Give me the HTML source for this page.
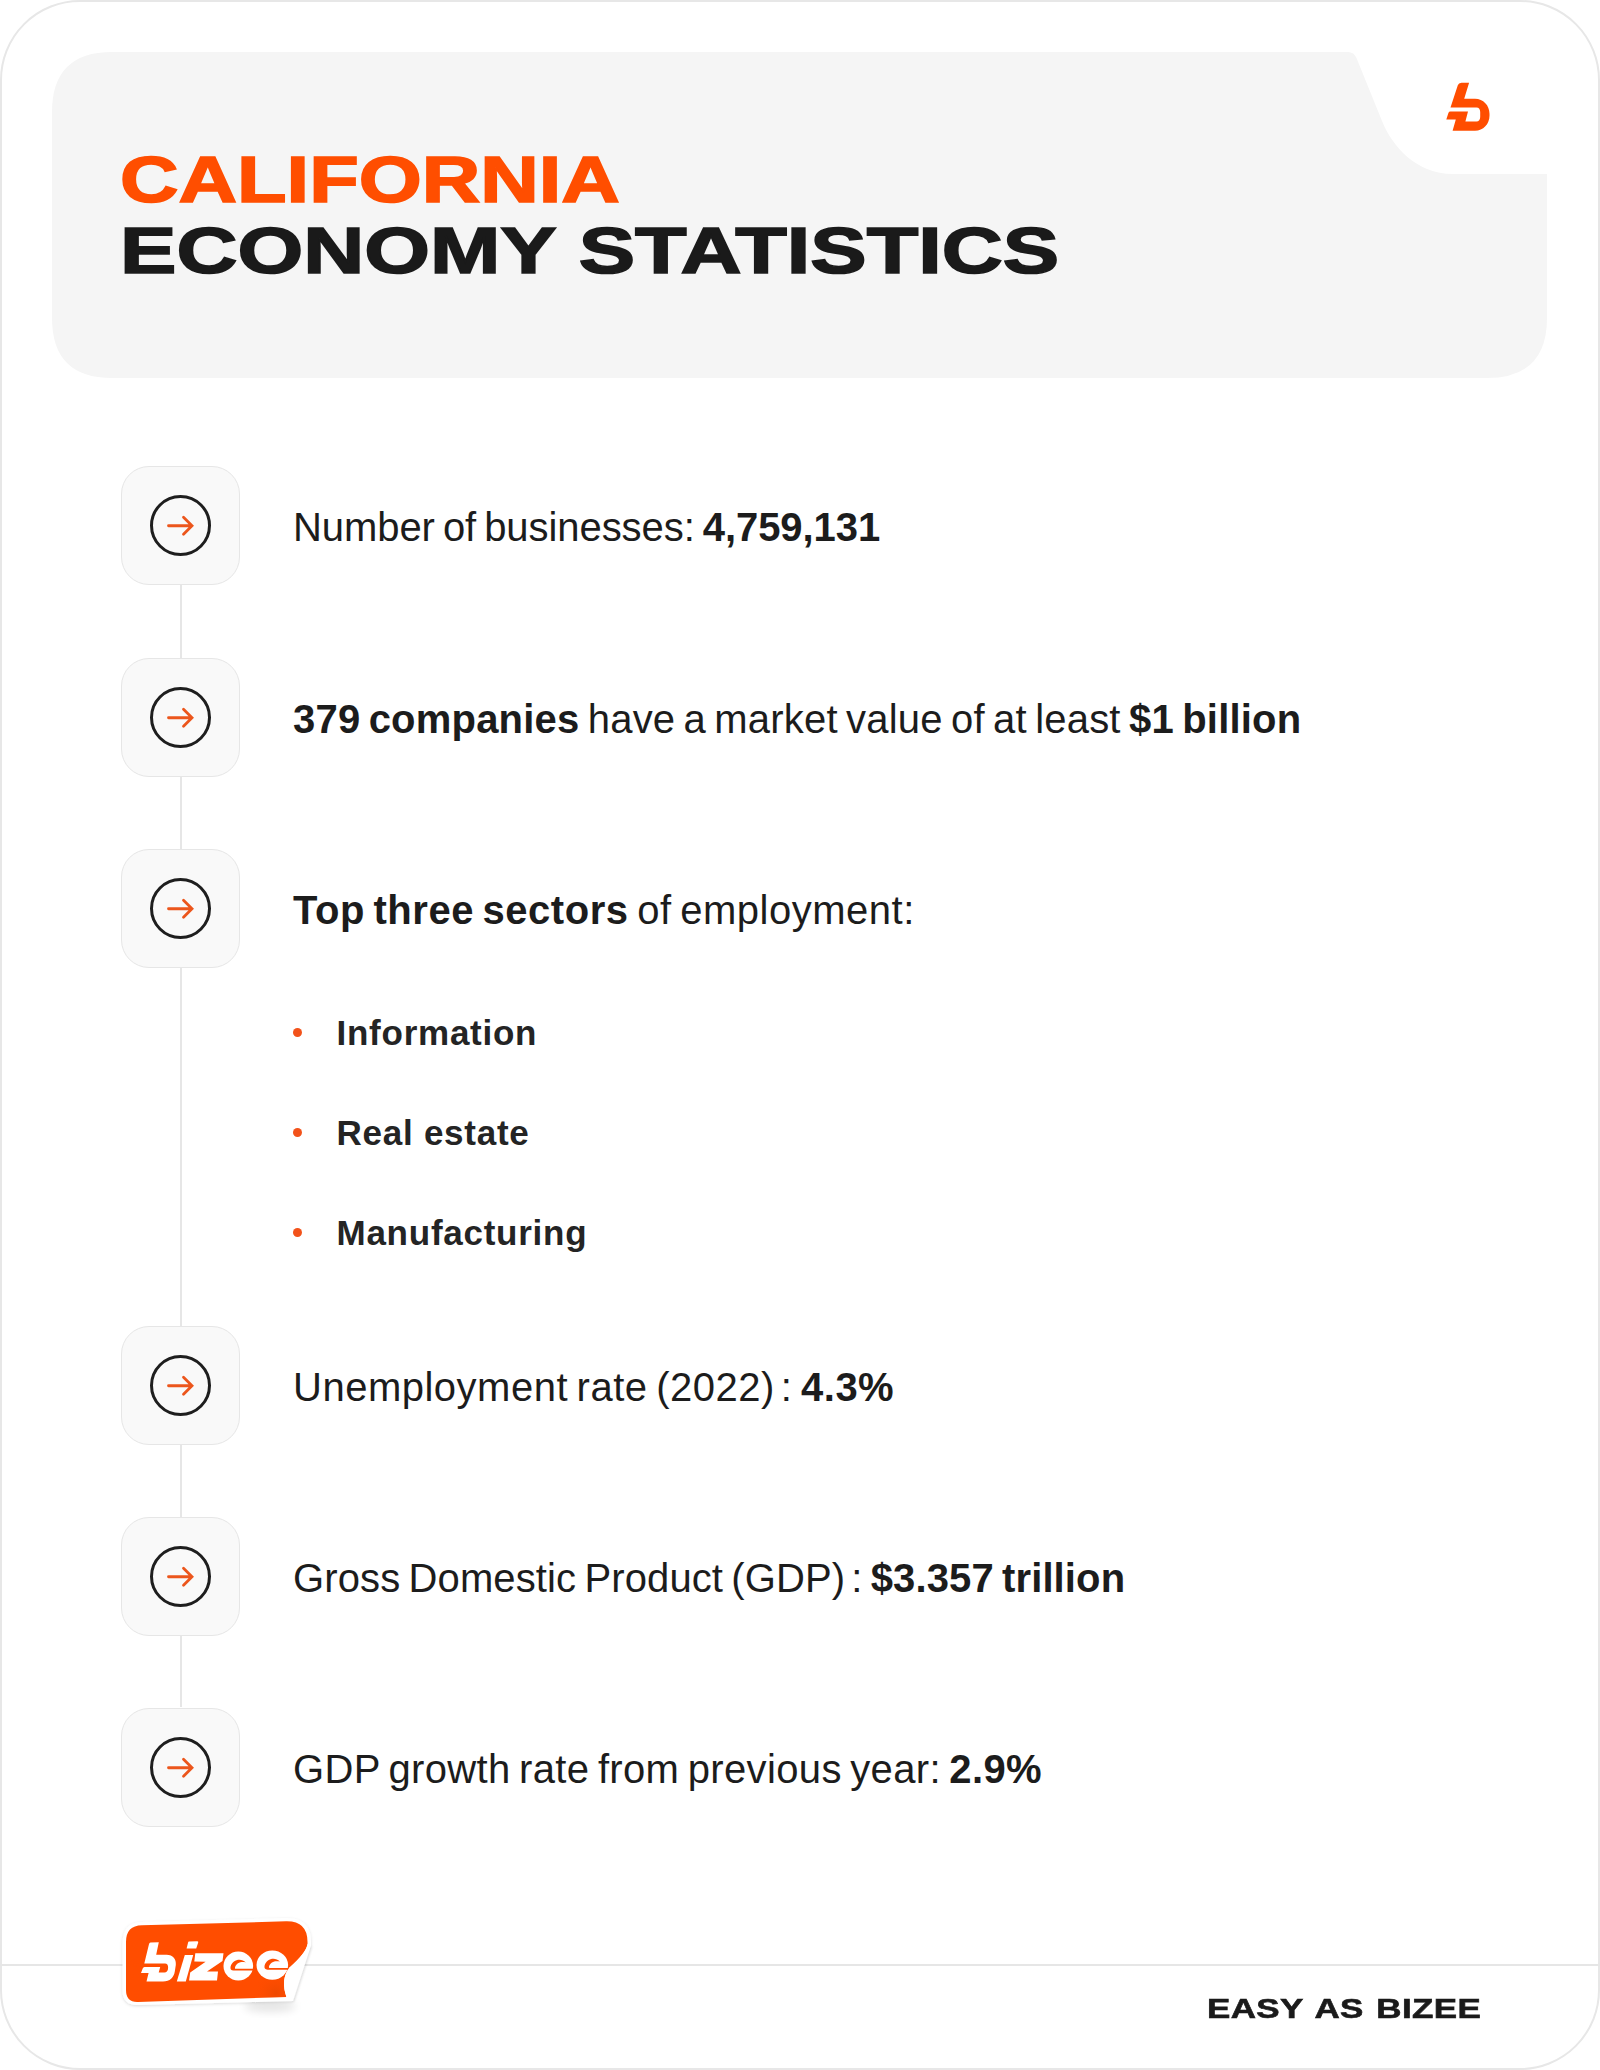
<!DOCTYPE html>
<html><head><meta charset="utf-8">
<style>
html,body{margin:0;padding:0;background:#fff;}
body{width:1600px;height:2070px;position:relative;overflow:hidden;font-family:"Liberation Sans",sans-serif;color:#1c1c1c;}
.frame{position:absolute;left:0;top:0;width:1596px;height:2066px;border:2px solid #e7e7e7;border-radius:80px;box-sizing:content-box;}
.abs{position:absolute;left:0;top:0;}
.t{position:absolute;white-space:nowrap;font-weight:bold;transform-origin:0 0;}
.ibox{position:absolute;left:121px;width:119px;height:119px;box-sizing:border-box;border:1.5px solid #e6e6e6;background:#f9f9f9;border-radius:28px;}
.vline{position:absolute;left:179.75px;width:2px;background:#e6e6e6;}
.row{position:absolute;left:293px;white-space:nowrap;font-size:40px;color:#1c1c1c;word-spacing:-3px;}
.row b{font-weight:bold;}
.sp{display:inline-block;width:6px;}
.bul{position:absolute;left:336.5px;white-space:nowrap;font-size:35px;letter-spacing:0.75px;font-weight:bold;color:#242424;}
.dot{position:absolute;left:293.4px;width:9px;height:9px;border-radius:50%;background:#f2521a;}
.hline{position:absolute;left:0;top:1964px;width:1600px;height:2px;background:#e6e6e6;}
.easy{position:absolute;left:1206.5px;top:1993px;white-space:nowrap;font-weight:bold;font-size:27.5px;-webkit-text-stroke:0.6px #1a1a1a;transform:scaleX(1.271);transform-origin:0 0;color:#1a1a1a;letter-spacing:0.3px;word-spacing:2px;}
</style></head>
<body>
<div class="frame"></div>
<svg class="abs" width="1600" height="400" viewBox="0 0 1600 400"><path d="M52 112 Q52 52 112 52 L1348 52 Q1354 52 1356.5 58 L1382 121 C1392 146 1416 174 1453 174 L1547 174 L1547 318 Q1547 378 1487 378 L112 378 Q52 378 52 318 Z" fill="#f5f5f5"/><path d="M1461.5 82.7 L1469.1 82.7 L1464.2 98.7 L1475 98.7 C1483.3 98.7 1489.5 105.4 1489.5 113.7 L1489.5 115.7 C1489.5 124 1483.3 130.7 1475 130.7 L1452.6 130.7 L1455.8 119.5 L1446.3 119.5 L1448.4 113 Q1448.9 111.6 1450.4 111.6 L1468 111.6 L1465.4 121.5 L1476.5 121.5 C1478.8 121.5 1480.2 119.5 1480.2 117 L1480.2 112 C1480.2 109.5 1479 107.5 1476.5 107.5 L1450.5 107.5 L1457.8 85.3 Q1458.6 82.7 1461.5 82.7 Z" fill="#ff4d00"/></svg>
<div class="t" style="left:120.4px;top:143.3px;font-size:64.5px;color:#ff4e00;-webkit-text-stroke:1.6px #ff4e00;transform:scaleX(1.2569);">CALIFORNIA</div>
<div class="t" style="left:120.3px;top:213.5px;font-size:64.5px;color:#1a1a1a;-webkit-text-stroke:1.6px #1a1a1a;transform:scaleX(1.3105);">ECONOMY STATISTICS</div>
<div class="vline" style="top:585px;height:1122px;"></div>
<div class="ibox" style="top:466px;"></div>
<svg class="abs" style="left:120px;top:465px;" width="120" height="120" viewBox="0 0 120 120"><circle cx="60.5" cy="60.5" r="29" fill="none" stroke="#1e1e1e" stroke-width="3"/><path d="M48.5 60.75 H71 M63.5 52.25 L72 60.75 L63.5 69.25" fill="none" stroke="#ec561c" stroke-width="2.8" stroke-linecap="round" stroke-linejoin="miter"/></svg>
<div class="row" style="top:504.75px;letter-spacing:-0.067px;">Number of businesses: <b>4,759,131</b></div>
<div class="ibox" style="top:658px;"></div>
<svg class="abs" style="left:120px;top:657px;" width="120" height="120" viewBox="0 0 120 120"><circle cx="60.5" cy="60.5" r="29" fill="none" stroke="#1e1e1e" stroke-width="3"/><path d="M48.5 60.75 H71 M63.5 52.25 L72 60.75 L63.5 69.25" fill="none" stroke="#ec561c" stroke-width="2.8" stroke-linecap="round" stroke-linejoin="miter"/></svg>
<div class="row" style="top:696.75px;letter-spacing:0.2px;"><b>379 companies</b> have a market value of at least <b>$1 billion</b></div>
<div class="ibox" style="top:849px;"></div>
<svg class="abs" style="left:120px;top:848px;" width="120" height="120" viewBox="0 0 120 120"><circle cx="60.5" cy="60.5" r="29" fill="none" stroke="#1e1e1e" stroke-width="3"/><path d="M48.5 60.75 H71 M63.5 52.25 L72 60.75 L63.5 69.25" fill="none" stroke="#ec561c" stroke-width="2.8" stroke-linecap="round" stroke-linejoin="miter"/></svg>
<div class="row" style="top:887.75px;letter-spacing:0.52px;"><b>Top three sectors</b> of employment:</div>
<div class="ibox" style="top:1326px;"></div>
<svg class="abs" style="left:120px;top:1325px;" width="120" height="120" viewBox="0 0 120 120"><circle cx="60.5" cy="60.5" r="29" fill="none" stroke="#1e1e1e" stroke-width="3"/><path d="M48.5 60.75 H71 M63.5 52.25 L72 60.75 L63.5 69.25" fill="none" stroke="#ec561c" stroke-width="2.8" stroke-linecap="round" stroke-linejoin="miter"/></svg>
<div class="row" style="top:1364.75px;letter-spacing:0.5px;">Unemployment rate (2022)<span class="sp"></span>: <b>4.3%</b></div>
<div class="ibox" style="top:1517px;"></div>
<svg class="abs" style="left:120px;top:1516px;" width="120" height="120" viewBox="0 0 120 120"><circle cx="60.5" cy="60.5" r="29" fill="none" stroke="#1e1e1e" stroke-width="3"/><path d="M48.5 60.75 H71 M63.5 52.25 L72 60.75 L63.5 69.25" fill="none" stroke="#ec561c" stroke-width="2.8" stroke-linecap="round" stroke-linejoin="miter"/></svg>
<div class="row" style="top:1555.75px;letter-spacing:0.12px;">Gross Domestic Product (GDP)<span class="sp"></span>: <b>$3.357 trillion</b></div>
<div class="ibox" style="top:1708px;"></div>
<svg class="abs" style="left:120px;top:1707px;" width="120" height="120" viewBox="0 0 120 120"><circle cx="60.5" cy="60.5" r="29" fill="none" stroke="#1e1e1e" stroke-width="3"/><path d="M48.5 60.75 H71 M63.5 52.25 L72 60.75 L63.5 69.25" fill="none" stroke="#ec561c" stroke-width="2.8" stroke-linecap="round" stroke-linejoin="miter"/></svg>
<div class="row" style="top:1746.75px;letter-spacing:0.35px;">GDP growth rate from previous year: <b>2.9%</b></div>
<div class="dot" style="top:1027.5px;"></div>
<div class="bul" style="top:1013px;">Information</div>
<div class="dot" style="top:1127.5px;"></div>
<div class="bul" style="top:1113px;">Real estate</div>
<div class="dot" style="top:1227.5px;"></div>
<div class="bul" style="top:1213px;">Manufacturing</div>
<div class="hline"></div>
<svg class="abs" style="left:100px;top:1900px;" width="230" height="130" viewBox="100 1900 230 130">
<defs>
<filter id="blur1" x="-50%" y="-50%" width="200%" height="200%"><feGaussianBlur stdDeviation="4"/></filter>
<filter id="ds" x="-20%" y="-20%" width="140%" height="140%"><feDropShadow dx="0" dy="1" stdDeviation="1.5" flood-color="#000" flood-opacity="0.14"/></filter>
<filter id="blur2" x="-50%" y="-50%" width="200%" height="200%"><feGaussianBlur stdDeviation="1.2"/></filter>
<radialGradient id="dk" cx="276" cy="1993" r="22" gradientUnits="userSpaceOnUse"><stop offset="0" stop-color="#c93e00" stop-opacity="0.3"/><stop offset="1" stop-color="#ff4d00" stop-opacity="0"/></radialGradient>
</defs>
<ellipse cx="270" cy="2006" rx="26" ry="6" fill="#000" opacity="0.10" filter="url(#blur1)"/>
<path d="M 311 1946 L 293 2001" stroke="#000" stroke-width="3" opacity="0.06" filter="url(#blur2)"/>

<path d="M 122.5 1944 Q 122.5 1922 142 1922 L 286 1918 Q 311 1917.5 311 1942 L 311 1945 L 293 2001 L 138 2005 Q 122.5 2005.5 122.5 1990 Z" fill="#fff" filter="url(#ds)"/>
<path d="M 126 1942 Q 126 1925.6 142 1925.3 L 286 1921.3 Q 307.5 1920.8 307.5 1942 L 307.5 1945 Q 306 1953 289 1968 Q 280.5 1980 286.4 1997 L 138 2002 Q 126 2002.5 126 1990 Z" fill="#ff4d00"/>
<path d="M 126 1942 Q 126 1925.6 142 1925.3 L 286 1921.3 Q 307.5 1920.8 307.5 1942 L 307.5 1945 Q 306 1953 289 1968 Q 280.5 1980 286.4 1997 L 138 2002 Q 126 2002.5 126 1990 Z" fill="url(#dk)"/>
<g fill="#fff">
<path d="M 150.5 1942.5 L 158.8 1942.3 L 156.2 1954.7 L 166.5 1954.7 C 173 1954.7 176.5 1959.5 175.8 1965 L 174.8 1971.5 C 173.8 1977.5 170 1981.5 163 1981.5 L 146.5 1981.5 L 148.6 1973 L 141 1973 L 142.7 1968.5 Q 143.2 1967 144.5 1967 L 160.2 1967 L 158.7 1972.6 L 164.5 1972.6 C 166.5 1972.6 167.6 1971 167.9 1969.5 L 168.1 1967.5 C 168.3 1965 167 1963.4 165 1963.4 L 144.3 1963.4 L 148.9 1944.5 Q 149.3 1942.5 150.5 1942.5 Z"/>
<path d="M 189 1941.5 L 197 1941.2 Q 198.6 1941.2 198.2 1942.6 L 196.2 1948.6 L 186.6 1948.6 L 188.1 1942.6 Q 188.3 1941.5 189 1941.5 Z"/>
<path d="M 184.8 1955 L 193.2 1955 L 185.8 1981.5 L 176.8 1981.5 Z"/>
<path d="M 195.3 1953.2 L 223.5 1953.2 L 222.5 1961.1 L 207 1971.4 L 218 1971.4 L 217 1980.4 L 189.1 1980.4 L 190.2 1972.5 L 205.6 1961.8 L 194.3 1961.5 Z"/>
<ellipse cx="238.3" cy="1966" rx="14.8" ry="14.45"/>
<ellipse cx="272.3" cy="1965.1" rx="15.8" ry="14.6"/>
</g>
<g fill="#ff4d00">
<path d="M 245.8 1962.4 C 241 1957.5 232.5 1959.5 230.6 1966.5 C 230 1969 231 1970.6 233.5 1970.6 L 253.5 1970.6 L 253.5 1968.8 L 235.5 1968.8 C 235 1968.8 234.8 1968.3 235 1967.5 C 236.5 1962.5 241 1961.5 245.8 1962.4 Z"/>
<path transform="translate(34 -0.9)" d="M 245.8 1962.4 C 241 1957.5 232.5 1959.5 230.6 1966.5 C 230 1969 231 1970.6 233.5 1970.6 L 255 1970.6 L 255 1968.8 L 235.5 1968.8 C 235 1968.8 234.8 1968.3 235 1967.5 C 236.5 1962.5 241 1961.5 245.8 1962.4 Z"/>
</g>
<path d="M 307.5 1944 L 311 1944.5 L 292.5 2000.5 L 286.4 1997 Q 280.5 1980 289 1968 Q 306 1953 307.5 1944 Z" fill="#fff"/>
</svg>

<div class="easy">EASY AS BIZEE</div>
</body></html>
